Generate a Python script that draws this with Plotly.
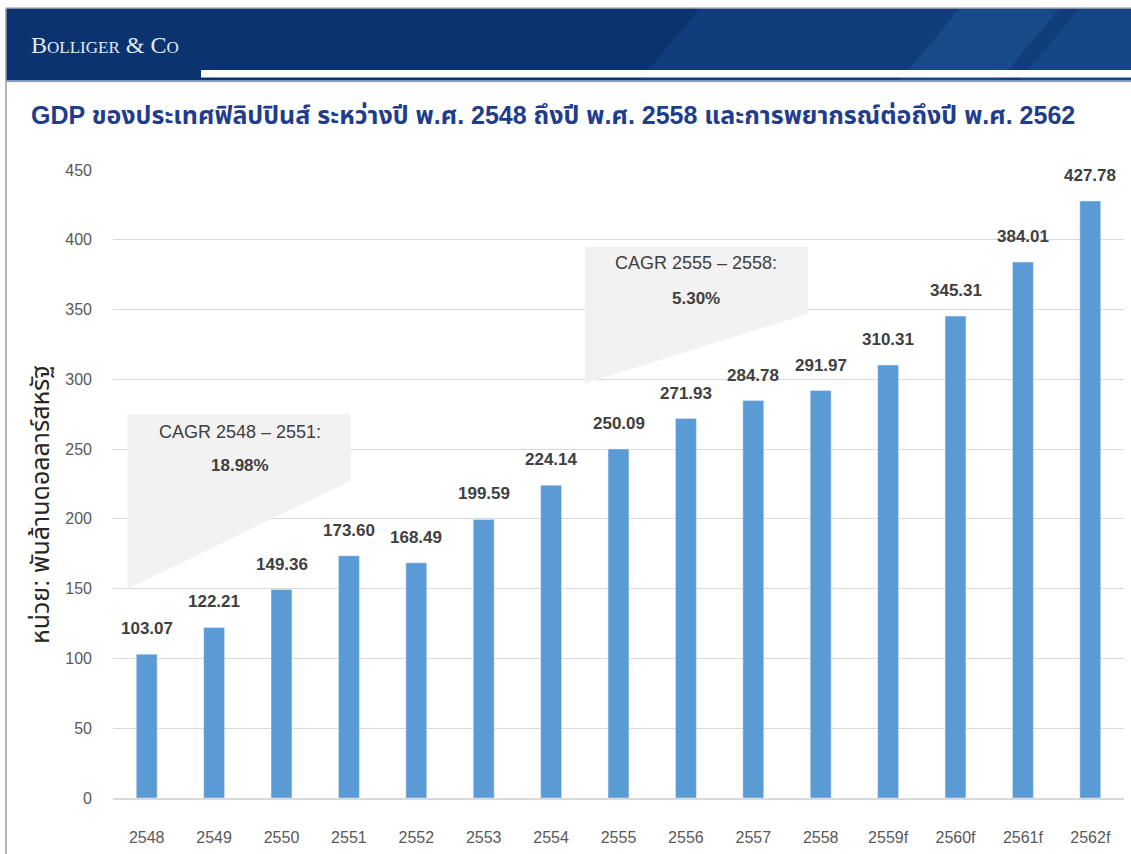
import plotly.graph_objects as go

# data
years = ["2548", "2549", "2550", "2551", "2552", "2553", "2554", "2555",
         "2556", "2557", "2558", "2559f", "2560f", "2561f", "2562f"]
gdp = [103.07, 122.21, 149.36, 173.60, 168.49, 199.59, 224.14, 250.09,
       271.93, 284.78, 291.97, 310.31, 345.31, 384.01, 427.78]
y_ticks = [0, 50, 100, 150, 200, 250, 300, 350, 400, 450]

title_text = "GDP ของประเทศฟิลิปปินส์ ระหว่างปี พ.ศ. 2548 ถึงปี พ.ศ. 2558 และการพยากรณ์ต่อถึงปี พ.ศ. 2562"
y_title = "หน่วย: พันล้านดอลลาร์สหรัฐ"
cagr_labels = ["CAGR 2548 – 2551:", "CAGR 2555 – 2558:"]
cagr_values = ["18.98%", "5.30%"]

W, H = 1131, 854
L, R, T, B = 113, 7, 170, 56
PW, PH = W - L - R, H - T - B

FONT = "Liberation Sans, Arial, Noto Sans Thai, sans-serif"
BAR_COLOR = "#5b9bd5"
NAVY = "#0b3370"


def px(x):
    return (x - L) / PW


def py(y):
    return (H - B - y) / PH


fig = go.Figure()

fig.add_trace(go.Bar(
    x=years, y=gdp,
    marker_color=BAR_COLOR,
    width=0.31,
    showlegend=False,
    hoverinfo="x+y",
))

# value labels above bars (x given as category index)
for i, v in enumerate(gdp):
    fig.add_annotation(
        x=i, y=v, text=f"{v:.2f}", showarrow=False,
        yanchor="bottom", yshift=14,
        font=dict(family=FONT, size=17, color="#404040", weight="bold"),
    )

# header band
shapes = [
    dict(type="rect", xref="paper", yref="paper",
         x0=px(6), x1=px(W), y0=py(80), y1=py(8),
         fillcolor=NAVY, line=dict(width=0), layer="above"),
    dict(type="path", xref="paper", yref="paper",
         path=f"M {px(640)} {py(80)} L {px(700)} {py(8)} L {px(W)} {py(8)} L {px(W)} {py(80)} Z",
         fillcolor="rgba(40,100,170,0.22)", line=dict(width=0), layer="above"),
    dict(type="path", xref="paper", yref="paper",
         path=f"M {px(900)} {py(80)} L {px(960)} {py(8)} L {px(1060)} {py(8)} L {px(1000)} {py(80)} Z",
         fillcolor="rgba(60,130,200,0.18)", line=dict(width=0), layer="above"),
    dict(type="path", xref="paper", yref="paper",
         path=f"M {px(1020)} {py(80)} L {px(1080)} {py(8)} L {px(W)} {py(8)} L {px(W)} {py(80)} Z",
         fillcolor="rgba(60,130,200,0.15)", line=dict(width=0), layer="above"),
    dict(type="rect", xref="paper", yref="paper",
         x0=px(201), x1=px(W), y0=py(77.5), y1=py(70),
         fillcolor="white", line=dict(width=0), layer="above"),
    dict(type="rect", xref="paper", yref="paper",
         x0=px(6), x1=px(W), y0=py(82), y1=py(80),
         fillcolor="#7f9cc6", line=dict(width=0), layer="above"),
    # frame lines
    dict(type="line", xref="paper", yref="paper",
         x0=px(6), x1=px(6), y0=py(H), y1=py(8),
         line=dict(color="#9a9a9a", width=1.5), layer="above"),
    dict(type="line", xref="paper", yref="paper",
         x0=px(6), x1=px(W), y0=py(8), y1=py(8),
         line=dict(color="#b0b0b0", width=1.5), layer="above"),
    # CAGR callouts
    dict(type="path", xref="x", yref="y",
         path="M -0.286 275 L 3.025 275 L 3.025 227.4 L -0.286 149.8 Z",
         fillcolor="#f2f2f2", line=dict(width=0), layer="between"),
    dict(type="path", xref="x", yref="y",
         path="M 6.5 395 L 9.81 395 L 9.81 347.1 L 6.5 297 Z",
         fillcolor="#f2f2f2", line=dict(width=0), layer="between"),
]
fig.update_layout(shapes=shapes)

# CAGR texts
for xi, yl, yv, lab, val in [(1.38, 262.3, 238.6, cagr_labels[0], cagr_values[0]),
                              (8.15, 383.3, 358.2, cagr_labels[1], cagr_values[1])]:
    fig.add_annotation(x=xi, y=yl, text=lab, showarrow=False,
                       font=dict(family=FONT, size=18, color="#404040"))
    fig.add_annotation(x=xi, y=yv, text=val, showarrow=False,
                       font=dict(family=FONT, size=17, color="#404040", weight="bold"))

# logo
fig.add_annotation(
    xref="paper", yref="paper", x=px(29), y=py(45),
    xanchor="left", yanchor="middle", showarrow=False,
    text="Bolliger & Co",
    font=dict(family="Liberation Serif, serif", size=24, color="#e6ebf3",
              variant="small-caps"),
)

# title
fig.add_annotation(
    xref="paper", yref="paper", x=px(29), y=py(115),
    xanchor="left", yanchor="middle", showarrow=False,
    text=title_text,
    font=dict(family=FONT, size=25, color="#1f3d8c", weight="bold"),
)

# y-axis title
fig.add_annotation(
    xref="paper", yref="paper", x=px(40), y=py(505),
    xanchor="center", yanchor="middle", showarrow=False,
    text=y_title, textangle=-90,
    font=dict(family=FONT, size=25, color="#262626"),
)

fig.update_layout(
    width=W, height=H,
    margin=dict(l=L, r=R, t=T, b=B),
    paper_bgcolor="white",
    plot_bgcolor="white",
    xaxis=dict(
        type="category",
        range=[-0.5, len(years) - 0.5],
        showgrid=False,
        showline=True, linecolor="#d9d9d9", linewidth=1.5,
        ticks="", ticklabelstandoff=24,
        tickfont=dict(family="Liberation Sans Narrow, Arial Narrow, " + FONT,
                      size=16, color="#595959"),
    ),
    yaxis=dict(
        range=[0, 450],
        tickvals=y_ticks,
        showgrid=True, gridcolor="#d9d9d9", gridwidth=1,
        zeroline=False,
        showline=False,
        ticks="", ticklabelstandoff=20,
        tickfont=dict(family=FONT, size=16, color="#595959"),
    ),
)

fig.write_html("out.html", config={"displayModeBar": False},
               post_script="document.body.style.margin='0';")
